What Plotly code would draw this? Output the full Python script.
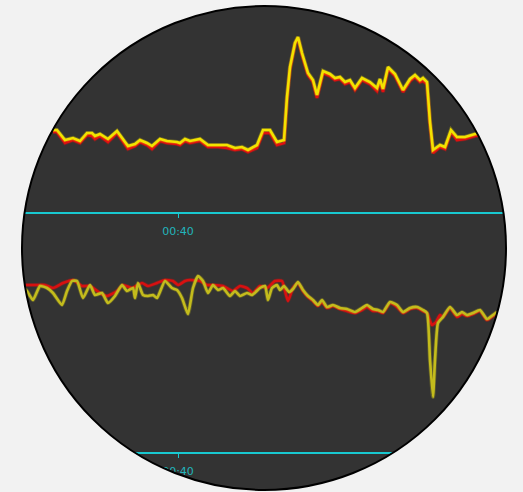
import numpy as np
import plotly.graph_objects as go

W, H = 523, 492

# ---------------- data ----------------
# top panel (time positions, amplitude above baseline)
top_time = [53, 57, 65, 73, 80, 87, 92, 95, 100, 108, 117, 122, 128, 135, 140, 147, 152, 160, 167, 177,
            180, 185, 190, 200, 208, 218, 227, 235, 242, 248, 257, 263, 270, 277, 284, 287, 290, 295, 298, 302,
            308, 313, 317, 323, 330, 335, 340, 345, 350, 355, 362, 370, 377, 380, 383, 388, 395, 403, 410, 415,
            420, 423, 427, 430, 433, 440, 445, 451, 457, 465, 475, 484]
top_yellow = [82, 82, 72, 74, 71, 79, 79, 76, 78, 73, 81, 74, 66, 68, 72, 69, 66, 73, 71, 70,
              69, 73, 71, 73, 67, 67, 67, 64, 65, 62, 67, 82, 82, 70, 72, 115, 145, 169, 175, 159,
              139, 132, 117, 141, 138, 134, 135, 130, 132, 124, 134, 130, 124, 133, 123, 145, 138, 122, 133, 137,
              132, 134, 130, 90, 62, 67, 65, 82, 75, 75, 78, 79]
top_red = [80, 80, 69, 72, 69, 77, 76, 73, 76, 70, 79, 72, 63, 66, 70, 67, 63, 71, 69, 68,
           67, 71, 69, 71, 65, 65, 64, 62, 63, 60, 64, 79, 79, 67, 69, 113, 143, 168, 174, 157,
           137, 130, 114, 139, 136, 132, 133, 128, 130, 122, 132, 128, 121, 131, 120, 143, 136, 120, 131, 135,
           130, 131, 128, 88, 59, 65, 63, 80, 72, 73, 76, 77]

# bottom panel
bot_time_y = [24, 27, 33, 40, 47, 53, 62, 67, 72, 77, 83, 90, 95, 102, 108, 115, 122, 127, 133, 135,
              138, 143, 148, 153, 157, 165, 172, 177, 182, 188, 193, 198, 203, 208, 213, 218, 223, 230, 235, 240,
              247, 252, 260, 265, 268, 272, 277, 280, 284, 289, 293, 298, 303, 308, 313, 318, 322, 327, 333, 340,
              347, 355, 362, 367, 373, 378, 383, 390, 397, 403, 410, 417, 423, 427, 430, 433, 435, 438, 443, 450,
              457, 462, 467, 473, 480, 487, 493, 497]
bot_yellow = [164, 161, 152, 166, 164, 159, 147, 161, 171, 171, 154, 167, 157, 159, 149, 156, 167, 161, 164, 154,
              169, 157, 156, 157, 154, 171, 164, 162, 154, 138, 164, 176, 171, 159, 167, 162, 164, 156, 161, 156,
              159, 157, 164, 166, 152, 164, 167, 162, 166, 160, 163, 170, 162, 156, 152, 147, 152, 145, 147, 144,
              143, 140, 144, 147, 143, 142, 140, 150, 147, 140, 144, 145, 142, 139, 92, 55, 92, 129, 135, 145,
              137, 140, 137, 139, 142, 133, 137, 140]
bot_time_r = [24, 27, 37, 45, 53, 63, 73, 82, 90, 100, 107, 117, 123, 132, 142, 148, 157, 165, 173, 178,
              185, 190, 200, 207, 213, 223, 233, 240, 247, 253, 260, 267, 275, 282, 285, 288, 293, 298, 303, 308,
              313, 318, 322, 327, 333, 340, 347, 355, 362, 367, 373, 378, 383, 390, 397, 403, 410, 417, 423, 427,
              432, 436, 440, 443, 450, 457, 462, 467, 473, 480, 487, 493, 497]
bot_red = [167, 167, 167, 167, 164, 169, 172, 166, 166, 159, 156, 161, 167, 164, 169, 166, 169, 172, 171, 167,
           171, 172, 171, 167, 167, 166, 161, 166, 164, 159, 166, 164, 171, 171, 161, 151, 164, 169, 161, 155,
           151, 146, 150, 144, 146, 143, 141, 139, 142, 145, 141, 141, 139, 149, 145, 139, 143, 144, 141, 139,
           127, 130, 137, 135, 144, 135, 138, 136, 138, 141, 132, 136, 139]

tick_vals = [178]
tick_text = ["00:40"]

# ---------------- styles ----------------
BG = "#f2f2f2"
DARK = "#333333"
CYAN = "#18c8d0"
CYAN_TXT = "#22b4bc"

fig = go.Figure()

def add_line(x, y, color, xa, ya, width=2.6, glow=0.3, smooth=False):
    shape = "spline" if smooth else "linear"
    fig.add_trace(go.Scatter(x=x, y=y, mode="lines", xaxis=xa, yaxis=ya, opacity=glow,
                             line=dict(color=color, width=width + 1.6, shape=shape, smoothing=0.5),
                             hoverinfo="skip", showlegend=False))
    fig.add_trace(go.Scatter(x=x, y=y, mode="lines", xaxis=xa, yaxis=ya,
                             line=dict(color=color, width=width, shape=shape, smoothing=0.5),
                             hoverinfo="skip", showlegend=False))

add_line(top_time, top_red, "#e01010", "x", "y")
add_line(top_time, top_yellow, "#f2e200", "x", "y")
add_line(bot_time_r, bot_red, "#d81010", "x2", "y2", smooth=True)
add_line(bot_time_y, bot_yellow, "#c4bc1c", "x2", "y2", smooth=True)

axis_common = dict(range=[0, W], showgrid=False, zeroline=False, showline=True, linecolor=CYAN,
                   linewidth=2, ticks="outside", ticklen=4, tickwidth=1, tickcolor=CYAN,
                   tickvals=tick_vals, ticktext=tick_text, ticklabelstandoff=4,
                   tickfont=dict(family="DejaVu Sans", size=11, color=CYAN_TXT), fixedrange=True)

fig.update_layout(
    width=W, height=H, margin=dict(l=0, r=0, t=0, b=0),
    paper_bgcolor=BG, plot_bgcolor="rgba(0,0,0,0)",
    xaxis=dict(domain=[0, 1], anchor="y", **axis_common),
    yaxis=dict(domain=[1 - 212 / H, 1], range=[0, 212], visible=False, fixedrange=True),
    xaxis2=dict(domain=[0, 1], anchor="y2", **axis_common),
    yaxis2=dict(domain=[1 - 452 / H, 1 - 250 / H], range=[0, 202], visible=False, fixedrange=True),
)

# circle geometry (pixels)
cx, cy, r = 264, 248, 242
ang = np.linspace(0, 2 * np.pi, 361)
px = (cx + r * np.cos(ang)) / W
py = 1 - (cy + r * np.sin(ang)) / H
circ = " ".join(("M" if i == 0 else "L") + f"{a:.5f},{b:.5f}" for i, (a, b) in enumerate(zip(px, py))) + " Z"
mask = "M-0.01,-0.01 L1.01,-0.01 L1.01,1.01 L-0.01,1.01 Z " + circ

fig.add_shape(type="circle", xref="paper", yref="paper", layer="below",
              x0=(cx - r) / W, x1=(cx + r) / W, y0=1 - (cy + r) / H, y1=1 - (cy - r) / H,
              fillcolor=DARK, line=dict(width=0))
fig.add_shape(type="path", xref="paper", yref="paper", layer="above", path=mask,
              fillcolor=BG, fillrule="evenodd", line=dict(width=0))
fig.add_shape(type="circle", xref="paper", yref="paper", layer="above",
              x0=(cx - r) / W, x1=(cx + r) / W, y0=1 - (cy + r) / H, y1=1 - (cy - r) / H,
              line=dict(color="black", width=2))

fig.write_html("out.html", config={"displayModeBar": False, "staticPlot": True})

# remove the default page margin so the figure sits at the window origin
with open("out.html", "r", encoding="utf-8") as f:
    html = f.read()
html = html.replace("<head>", "<head><style>html,body{margin:0;padding:0;overflow:hidden;background:#f2f2f2}</style>", 1)
with open("out.html", "w", encoding="utf-8") as f:
    f.write(html)
